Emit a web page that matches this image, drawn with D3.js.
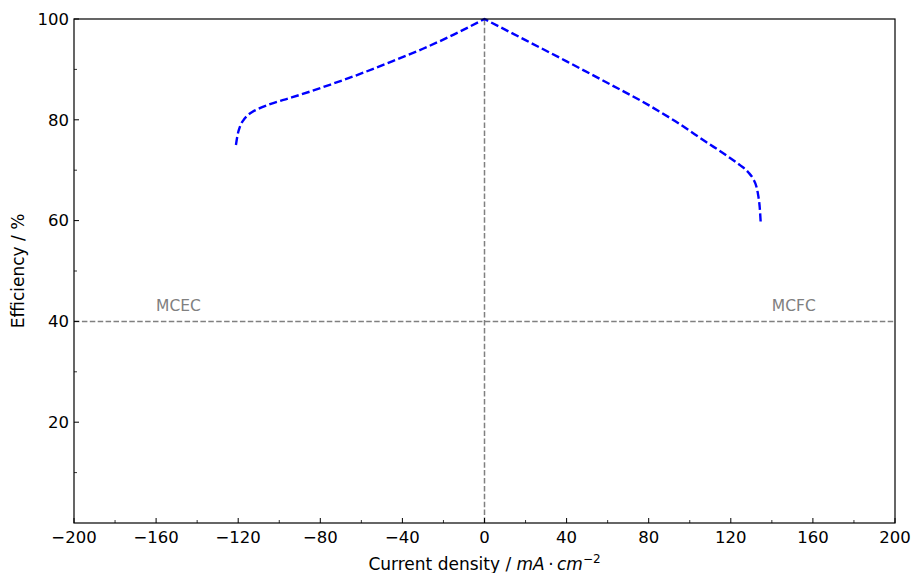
<!DOCTYPE html>
<html>
<head>
<meta charset="utf-8">
<script src="https://cdn.jsdelivr.net/npm/d3@7"></script>
<style>
  html, body { margin: 0; padding: 0; background: #fff; }
  svg { display: block; }
  text { font-family: "DejaVu Sans", sans-serif; }
</style>
</head>
<body>
<svg id="chart" width="912" height="573"></svg>
<script>
// Efficiency vs. current density (electrolysis on the left, fuel-cell mode on the right)
const currentDensity = [-121.1, -120.3, -119.1, -117.5, -115.9, -113.0, -110.0, -104.5, -95.0, -85.0, -75.0, -60.0, -45.0, -30.0, -15.0, 0,
                        20.0, 40.0, 60.0, 77.0, 93.0, 108.0, 118.0, 124.5, 128.5, 131.0, 132.5, 133.4, 134.1, 134.6];
const efficiency =     [75.0, 77.0, 78.7, 79.9, 80.7, 81.6, 82.2, 83.1, 84.3, 85.6, 87.0, 89.2, 91.6, 94.1, 96.9, 100,
                        95.8, 91.6, 87.3, 83.6, 79.7, 75.6, 72.9, 71.0, 69.6, 68.2, 66.7, 64.9, 62.6, 59.4];

const xTicks = [-200, -160, -120, -80, -40, 0, 40, 80, 120, 160, 200];
const xMinorTicks = [-180, -140, -100, -60, -20, 20, 60, 100, 140, 180];
const yTicks = [20, 40, 60, 80, 100];
const yMinorTicks = [10, 30, 50, 70, 90];

const thresholdLevel = 40;
const regionLabels = [
  { text: "MCEC", x: -160, y: 42 },
  { text: "MCFC", x: 140, y: 42 }
];

const margin = { left: 74, right: 17, top: 19, bottom: 50 };
const W = 912, H = 573;
const svg = d3.select("#chart");

const x = d3.scaleLinear().domain([-200, 200]).range([margin.left, W - margin.right]);
const y = d3.scaleLinear().domain([0, 100]).range([H - margin.bottom, margin.top]);

const gray = "#808080";

// Reference lines: zero current and 40 % level
svg.append("line")
  .attr("x1", x(0)).attr("x2", x(0))
  .attr("y1", y(0)).attr("y2", y(100))
  .attr("stroke", gray).attr("stroke-width", 1.5)
  .attr("stroke-dasharray", "5.5,2.4");

svg.append("line")
  .attr("x1", x(-200)).attr("x2", x(200))
  .attr("y1", y(thresholdLevel)).attr("y2", y(thresholdLevel))
  .attr("stroke", gray).attr("stroke-width", 1.5)
  .attr("stroke-dasharray", "5.5,2.4");

// Region labels
svg.selectAll("text.region")
  .data(regionLabels)
  .enter().append("text")
  .attr("class", "region")
  .attr("x", d => x(d.x))
  .attr("y", d => y(d.y))
  .attr("fill", gray)
  .attr("font-size", 15.5)
  .text(d => d.text);

// Efficiency curve: each branch smoothed on its own so the peak at zero stays sharp,
// then joined into one continuous path so the dash pattern runs through.
const pts = currentDensity.map((c, i) => [c, efficiency[i]]);
const left = pts.filter(d => d[0] <= 0);
const right = pts.filter(d => d[0] >= 0);
const line = d3.line()
  .x(d => x(d[0]))
  .y(d => y(d[1]))
  .curve(d3.curveMonotoneX);
const dPath = line(left) + "L" + line(right).slice(1);

svg.append("path")
  .attr("fill", "none")
  .attr("stroke", "#0000ff")
  .attr("stroke-width", 2.4)
  .attr("stroke-dasharray", "8,3.4")
  .attr("d", dPath);

// Axes frame
svg.append("rect")
  .attr("x", x(-200)).attr("y", y(100))
  .attr("width", x(200) - x(-200)).attr("height", y(0) - y(100))
  .attr("fill", "none").attr("stroke", "#000").attr("stroke-width", 1.2);

// Bottom axis: inward ticks
const xAxisG = svg.append("g").attr("transform", `translate(0,${y(0)})`);
xAxisG.selectAll("line.major").data(xTicks).enter().append("line")
  .attr("x1", d => x(d)).attr("x2", d => x(d))
  .attr("y1", 0).attr("y2", -5)
  .attr("stroke", "#000").attr("stroke-width", 1);
xAxisG.selectAll("line.minor").data(xMinorTicks).enter().append("line")
  .attr("x1", d => x(d)).attr("x2", d => x(d))
  .attr("y1", 0).attr("y2", -3)
  .attr("stroke", "#000").attr("stroke-width", 0.8);
xAxisG.selectAll("text").data(xTicks).enter().append("text")
  .attr("x", d => x(d)).attr("y", 20)
  .attr("text-anchor", "middle")
  .attr("font-size", 16.5)
  .text(d => d < 0 ? "\u2212" + Math.abs(d) : String(d));

// Left axis: inward ticks
const yAxisG = svg.append("g").attr("transform", `translate(${x(-200)},0)`);
yAxisG.selectAll("line.major").data(yTicks).enter().append("line")
  .attr("x1", 0).attr("x2", 5)
  .attr("y1", d => y(d)).attr("y2", d => y(d))
  .attr("stroke", "#000").attr("stroke-width", 1);
yAxisG.selectAll("line.minor").data(yMinorTicks).enter().append("line")
  .attr("x1", 0).attr("x2", 3)
  .attr("y1", d => y(d)).attr("y2", d => y(d))
  .attr("stroke", "#000").attr("stroke-width", 0.8);
yAxisG.selectAll("text").data(yTicks).enter().append("text")
  .attr("x", -5).attr("y", d => y(d))
  .attr("dy", "0.35em")
  .attr("text-anchor", "end")
  .attr("font-size", 16.5)
  .text(d => String(d));

// Axis titles
const xt = svg.append("text")
  .attr("x", (x(-200) + x(200)) / 2)
  .attr("y", 570)
  .attr("text-anchor", "middle")
  .attr("font-size", 17);
xt.append("tspan").text("Current density / ");
xt.append("tspan").attr("font-style", "italic").text("mA");
xt.append("tspan").text("\u2009\u00b7\u2009");
xt.append("tspan").attr("font-style", "italic").text("cm");
xt.append("tspan").attr("font-size", 12).attr("dy", -7).text("\u22122");

svg.append("text")
  .attr("transform", `translate(24,${(y(0) + y(100)) / 2}) rotate(-90)`)
  .attr("text-anchor", "middle")
  .attr("font-size", 17)
  .text("Efficiency / %");
</script>
</body>
</html>
